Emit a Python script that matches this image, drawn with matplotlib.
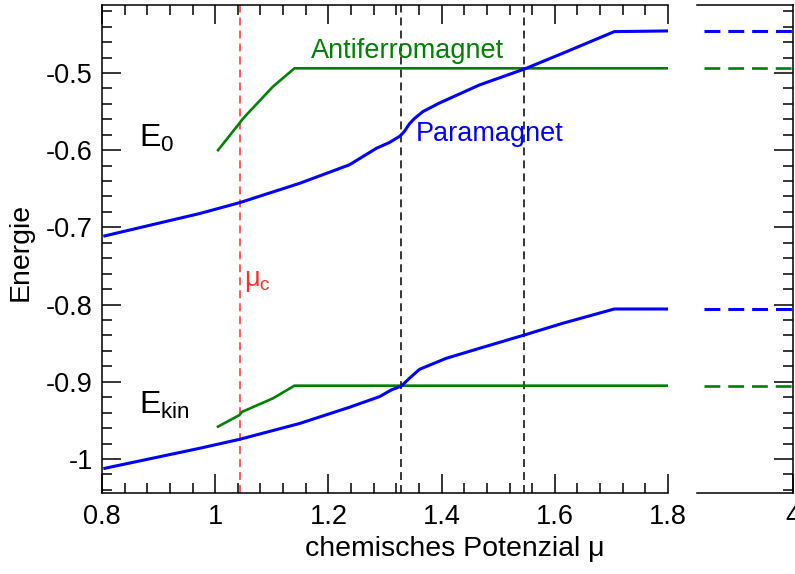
import matplotlib
matplotlib.use('Agg')
import matplotlib.pyplot as plt
from matplotlib.ticker import MultipleLocator, FixedLocator, FuncFormatter, NullLocator

plt.rcParams['font.family'] = ['Liberation Sans', 'DejaVu Sans']
plt.rcParams['mathtext.fontset'] = 'custom'
plt.rcParams['mathtext.rm'] = 'Liberation Sans'
plt.rcParams['axes.unicode_minus'] = False

# ---- data ----
mu_para_E0 = [0.805, 0.973, 1.043, 1.149, 1.237, 1.285, 1.308, 1.326, 1.334, 1.343,
              1.352, 1.367, 1.396, 1.408, 1.467, 1.546, 1.614, 1.705, 1.800]
E0_para = [-0.711, -0.682, -0.668, -0.643, -0.619, -0.5975, -0.590, -0.582, -0.576, -0.566,
           -0.559, -0.550, -0.539, -0.535, -0.5155, -0.495, -0.4745, -0.4465, -0.4456]

mu_para_kin = [0.805, 0.973, 1.043, 1.149, 1.237, 1.290, 1.311, 1.329, 1.343, 1.361,
               1.408, 1.467, 1.546, 1.614, 1.705, 1.800]
Ekin_para = [-1.012, -0.986, -0.9745, -0.954, -0.933, -0.9193, -0.9106, -0.9054, -0.8955, -0.8838,
             -0.8696, -0.8566, -0.8394, -0.8242, -0.8057, -0.8057]

mu_afm = [1.005, 1.043, 1.047, 1.055, 1.102, 1.140, 1.800]
E0_afm = [-0.600, -0.565, -0.561, -0.5544, -0.5177, -0.494, -0.494]
Ekin_afm = [-0.958, -0.943, -0.939, -0.9365, -0.9214, -0.905, -0.905]

mu_far = [3.07, 4.0]
E0_para_far = [-0.4456, -0.4456]
E0_afm_far = [-0.494, -0.494]
Ekin_para_far = [-0.8057, -0.8057]
Ekin_afm_far = [-0.905, -0.905]

mu_c = 1.043
mu_transitions = [1.328, 1.545]

xticks_main = [0.8, 1.0, 1.2, 1.4, 1.6, 1.8]
yticks = [-1.0, -0.9, -0.8, -0.7, -0.6, -0.5]

BLUE = '#0000ff'
GREEN = '#008000'
RED = '#ff3030'
FS = 19.5

fig = plt.figure(figsize=(7.95, 5.74), dpi=100)
ax = fig.add_axes([0.1283, 0.1411, 0.7120, 0.8502])
ax2 = fig.add_axes([0.8767, 0.1411, 0.1208, 0.8502])

ylim = (-1.044, -0.412)
for a in (ax, ax2):
    a.set_ylim(*ylim)
    for s in a.spines.values():
        s.set_linewidth(1.1)

# main panel
ax.axvline(mu_c, color=RED, lw=1.1, dashes=(5.2, 3.3))
for m in mu_transitions:
    ax.axvline(m, color='black', lw=1.1, dashes=(5.2, 3.3))

ax.plot(mu_afm, E0_afm, color=GREEN, lw=1.9)
ax.plot(mu_afm, Ekin_afm, color=GREEN, lw=1.9)
ax.plot(mu_para_E0, E0_para, color=BLUE, lw=2.2)
ax.plot(mu_para_kin, Ekin_para, color=BLUE, lw=2.2)

ax.set_xlim(0.8, 1.8)
ax.xaxis.set_major_locator(FixedLocator(xticks_main))
ax.xaxis.set_minor_locator(MultipleLocator(0.04))
ax.yaxis.set_major_locator(FixedLocator(yticks))
ax.yaxis.set_minor_locator(MultipleLocator(0.02))
fmt = FuncFormatter(lambda v, p: f'{v:g}')
ax.xaxis.set_major_formatter(fmt)
ax.yaxis.set_major_formatter(fmt)
ax.spines['right'].set_visible(False)
ax.tick_params(which='both', direction='in', top=True, right=False, width=1.1)
ax.tick_params(which='major', length=13.7)
ax.tick_params(which='minor', length=7.2)
ax.tick_params(axis='both', labelsize=FS)
ax.tick_params(axis='y', pad=6.5)
ax.tick_params(axis='x', pad=8)

ax.text(1.170, -0.4806, 'Antiferromagnet', color=GREEN, fontsize=FS, ha='left', va='baseline')
ax.text(1.354, -0.588, 'Paramagnet', color=BLUE, fontsize=FS, ha='left', va='baseline')
ax.text(0.865, -0.5959, r'E$_{\mathregular{0}}$', color='black', fontsize=23, ha='left', va='baseline')
ax.text(0.865, -0.9408, r'E$_{\mathregular{kin}}$', color='black', fontsize=23, ha='left', va='baseline')
ax.text(1.050, -0.776, r'μ$_{\mathregular{c}}$', color=RED, fontsize=FS, ha='left', va='baseline')

# right panel
ax2.plot(mu_far, E0_para_far, color=BLUE, lw=2.2, dashes=(5.2, 2.6))
ax2.plot(mu_far, E0_afm_far, color=GREEN, lw=1.9, dashes=(6.0, 3.0))
ax2.plot(mu_far, Ekin_para_far, color=BLUE, lw=2.2, dashes=(5.2, 2.6))
ax2.plot(mu_far, Ekin_afm_far, color=GREEN, lw=1.9, dashes=(6.0, 3.0))
ax2.set_xlim(3.0, 4.0)
ax2.xaxis.set_major_locator(FixedLocator([4.0]))
ax2.xaxis.set_minor_locator(NullLocator())
ax2.xaxis.set_major_formatter(fmt)
ax2.yaxis.set_major_locator(FixedLocator(yticks))
ax2.yaxis.set_minor_locator(MultipleLocator(0.02))
ax2.spines['left'].set_visible(False)
ax2.tick_params(which='both', direction='in', left=False, right=True, labelleft=False,
                labelright=False, top=False, width=1.1)
ax2.tick_params(which='major', length=13.7)
ax2.tick_params(which='minor', length=7.2)
ax2.tick_params(axis='x', labelsize=FS, pad=8)

fig.text(455 / 795, 1 - 549 / 574, 'chemisches Potenzial μ', fontsize=20.5, ha='center', va='center')
fig.text(21 / 795, 1 - 252 / 574, 'Energie', fontsize=20.5, ha='center', va='center', rotation=90)

fig.savefig('out.png', dpi=100)
